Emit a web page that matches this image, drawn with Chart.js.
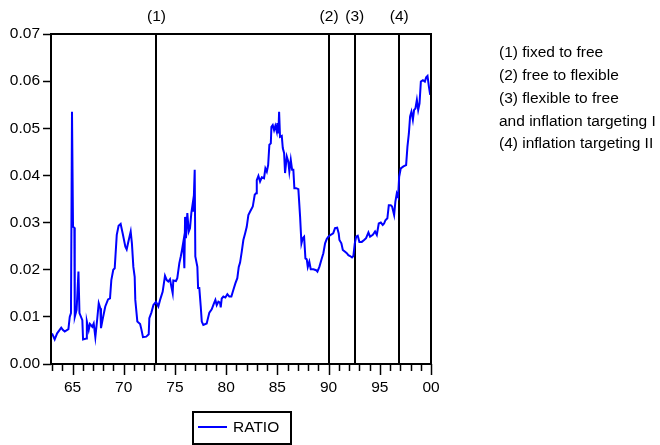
<!DOCTYPE html>
<html>
<head>
<meta charset="utf-8">
<script src="https://cdn.jsdelivr.net/npm/chart.js@4.4.1/dist/chart.umd.min.js"></script>
<style>
html,body{margin:0;padding:0;background:#fff;}
#wrap{width:660px;height:445px;position:relative;}
</style>
</head>
<body>
<div id="wrap"><canvas id="c" width="660" height="445"></canvas></div>
<script>
// ---- data ----
const years = [1963.00,1963.26,1963.50,1963.90,1964.07,1964.24,1964.60,1964.73,1964.85,1964.95,1965.05,1965.18,1965.22,1965.40,1965.58,1965.68,1965.96,1966.03,1966.35,1966.40,1966.58,1966.70,1966.93,1967.07,1967.23,1967.42,1967.56,1967.72,1967.78,1967.98,1968.20,1968.47,1968.66,1968.79,1968.98,1969.12,1969.32,1969.50,1969.70,1969.90,1970.16,1970.29,1970.42,1970.68,1970.80,1970.94,1971.07,1971.13,1971.33,1971.60,1971.72,1971.88,1972.20,1972.44,1972.50,1972.70,1972.90,1973.15,1973.38,1973.55,1973.80,1974.03,1974.20,1974.35,1974.52,1974.65,1974.78,1974.84,1975.10,1975.23,1975.43,1975.57,1975.69,1975.82,1975.92,1975.99,1976.08,1976.21,1976.35,1976.47,1976.60,1976.74,1976.80,1976.93,1976.99,1977.19,1977.26,1977.38,1977.52,1977.62,1977.77,1978.10,1978.36,1978.59,1978.82,1978.95,1979.08,1979.24,1979.40,1979.47,1979.57,1979.73,1979.92,1980.12,1980.31,1980.51,1980.70,1980.90,1981.09,1981.23,1981.36,1981.52,1981.68,1981.85,1982.01,1982.17,1982.33,1982.60,1982.79,1982.92,1982.99,1983.15,1983.31,1983.48,1983.70,1983.83,1983.97,1984.10,1984.22,1984.36,1984.42,1984.55,1984.68,1984.80,1984.94,1985.00,1985.10,1985.17,1985.26,1985.43,1985.53,1985.66,1985.75,1985.92,1986.07,1986.17,1986.31,1986.44,1986.56,1986.66,1986.83,1987.05,1987.22,1987.35,1987.48,1987.61,1987.74,1987.87,1987.97,1988.12,1988.26,1988.52,1988.78,1988.91,1989.10,1989.30,1989.49,1989.66,1989.82,1989.98,1990.21,1990.45,1990.63,1990.84,1990.99,1991.06,1991.25,1991.39,1991.61,1991.78,1991.93,1992.10,1992.29,1992.42,1992.56,1992.69,1992.85,1993.01,1993.24,1993.47,1993.66,1993.89,1994.05,1994.32,1994.54,1994.71,1994.90,1995.10,1995.29,1995.42,1995.55,1995.74,1995.88,1996.07,1996.20,1996.40,1996.52,1996.66,1996.79,1996.89,1997.05,1997.31,1997.57,1997.70,1997.84,1997.96,1998.09,1998.23,1998.35,1998.48,1998.62,1998.75,1998.88,1999.01,1999.21,1999.40,1999.53,1999.66,1999.80,1999.92];
const ratio = [0.0065,0.0052,0.0065,0.0077,0.0072,0.0069,0.0074,0.0100,0.0108,0.0535,0.0291,0.0289,0.0100,0.0115,0.0196,0.0108,0.0093,0.0052,0.0054,0.0090,0.0072,0.0085,0.0079,0.0086,0.0057,0.0097,0.0129,0.0118,0.0076,0.0099,0.0122,0.0137,0.0139,0.0178,0.0200,0.0203,0.0274,0.0293,0.0297,0.0277,0.0249,0.0243,0.0256,0.0281,0.0256,0.0206,0.0185,0.0136,0.0090,0.0085,0.0074,0.0057,0.0058,0.0063,0.0097,0.0109,0.0125,0.0132,0.0122,0.0136,0.0153,0.0187,0.0178,0.0175,0.0180,0.0164,0.0150,0.0177,0.0176,0.0182,0.0214,0.0228,0.0242,0.0259,0.0203,0.0312,0.0267,0.0320,0.0281,0.0288,0.0320,0.0341,0.0323,0.0412,0.0228,0.0206,0.0161,0.0161,0.0122,0.0090,0.0083,0.0086,0.0109,0.0116,0.0129,0.0136,0.0125,0.0132,0.0130,0.0120,0.0139,0.0143,0.0141,0.0148,0.0143,0.0143,0.0157,0.0171,0.0182,0.0206,0.0215,0.0238,0.0263,0.0277,0.0291,0.0316,0.0323,0.0334,0.0359,0.0362,0.0390,0.0399,0.0387,0.0396,0.0394,0.0415,0.0408,0.0422,0.0465,0.0468,0.0503,0.0507,0.0496,0.0505,0.0493,0.0511,0.0489,0.0535,0.0482,0.0484,0.0458,0.0447,0.0405,0.0440,0.0429,0.0408,0.0433,0.0412,0.0412,0.0373,0.0373,0.0371,0.0312,0.0256,0.0267,0.0270,0.0224,0.0222,0.0206,0.0217,0.0201,0.0201,0.0199,0.0196,0.0206,0.0221,0.0235,0.0256,0.0265,0.0270,0.0274,0.0277,0.0288,0.0289,0.0277,0.0263,0.0256,0.0242,0.0238,0.0235,0.0231,0.0229,0.0226,0.0229,0.0256,0.0270,0.0272,0.0259,0.0259,0.0263,0.0267,0.0279,0.0270,0.0274,0.0281,0.0274,0.0298,0.0300,0.0295,0.0298,0.0305,0.0309,0.0337,0.0337,0.0334,0.0316,0.0344,0.0362,0.0355,0.0397,0.0415,0.0419,0.0422,0.0461,0.0489,0.0525,0.0535,0.0518,0.0539,0.0542,0.0560,0.0539,0.0553,0.0599,0.0602,0.0599,0.0608,0.0611,0.0588,0.0571];
const seriesName = 'RATIO';
const regimeYears = [1973.2, 1990.05, 1992.56, 1996.9];
const regimeLabels = ['(1)', '(2)', '(3)', '(4)'];
const regimeNotes = ['(1) fixed to free', '(2) free to flexible', '(3) flexible to free', 'and inflation targeting I', '(4) inflation targeting II'];
const majorYears = [1965, 1970, 1975, 1980, 1985, 1990, 1995, 2000];
const xTickLabels = ['65', '70', '75', '80', '85', '90', '95', '00'];
const minorYears = [1963,1964,1965,1966,1967,1968,1969,1970,1971,1972,1973,1974,1975,1976,1977,1978,1979,1980,1981,1982,1983,1984,1985,1986,1987,1988,1989,1990,1991,1992,1993,1994,1995,1996,1997,1998,1999,2000];
const xMin = 1962.9, xMax = 2000.0;
const yMin = 0, yMax = 0.07, yStep = 0.01;

const FONT = '"Liberation Sans", Arial, sans-serif';
const FS = 15.5;

const points = years.map((x, i) => ({x: x, y: ratio[i]}));

const overlay = {
  id: 'overlay',
  beforeDatasetsDraw(chart) {
    const ctx = chart.ctx, a = chart.chartArea, xs = chart.scales.x;
    ctx.save();
    ctx.strokeStyle = '#000';
    ctx.lineWidth = 2;
    regimeYears.forEach(v => {
      const px = Math.round(xs.getPixelForValue(v));
      ctx.beginPath();
      ctx.moveTo(px, a.top);
      ctx.lineTo(px, a.bottom);
      ctx.stroke();
    });
    ctx.restore();
  },
  afterDraw(chart) {
    const ctx = chart.ctx, a = chart.chartArea, xs = chart.scales.x;
    ctx.save();
    // frame
    ctx.strokeStyle = '#000';
    ctx.lineWidth = 2;
    ctx.strokeRect(a.left, a.top, a.right - a.left, a.bottom - a.top);
    // x ticks
    ctx.lineWidth = 1.5;
    minorYears.forEach(v => {
      const px = Math.round(xs.getPixelForValue(v)) + 0.5;
      const len = majorYears.includes(v) ? 11 : 7;
      ctx.beginPath();
      ctx.moveTo(px, a.bottom);
      ctx.lineTo(px, a.bottom + len);
      ctx.stroke();
    });
    // regime labels at top
    ctx.fillStyle = '#000';
    ctx.font = FS + 'px ' + FONT;
    ctx.textAlign = 'center';
    ctx.textBaseline = 'middle';
    regimeYears.forEach((v, i) => {
      ctx.fillText(regimeLabels[i], xs.getPixelForValue(v), 17);
    });
    // notes on the right
    ctx.textAlign = 'left';
    regimeNotes.forEach((t, i) => {
      ctx.fillText(t, 499, 53 + i * 22.75);
    });
    // legend box
    ctx.lineWidth = 2;
    ctx.strokeRect(193, 412, 98, 32);
    const ds = chart.data.datasets[0];
    ctx.strokeStyle = ds.borderColor;
    ctx.lineWidth = 2;
    ctx.beginPath();
    ctx.moveTo(198, 427);
    ctx.lineTo(227, 427);
    ctx.stroke();
    ctx.fillStyle = '#000';
    ctx.fillText(ds.label, 233, 428);
    ctx.restore();
  }
};

new Chart(document.getElementById('c'), {
  type: 'line',
  data: {
    datasets: [{
      label: seriesName,
      data: points,
      borderColor: '#0000ff',
      borderWidth: 2,
      pointRadius: 0,
      tension: 0,
      fill: false
    }]
  },
  options: {
    responsive: false,
    animation: false,
    devicePixelRatio: 1,
    layout: {padding: {left: 0, top: 34, right: 229, bottom: 50}},
    plugins: {legend: {display: false}, tooltip: {enabled: false}},
    scales: {
      x: {
        type: 'linear',
        min: xMin,
        max: xMax,
        afterBuildTicks(scale) { scale.ticks = majorYears.map(v => ({value: v})); },
        afterFit(scale) { scale.height = 31; scale.paddingLeft = 0; scale.paddingRight = 0; },
        ticks: {
          autoSkip: false,
          maxRotation: 0,
          minRotation: 0,
          padding: 3,
          color: '#000',
          font: {family: FONT, size: FS},
          callback(v) { const i = majorYears.indexOf(v); return i >= 0 ? xTickLabels[i] : ''; }
        },
        grid: {display: true, drawOnChartArea: false, drawTicks: true, tickLength: 11, tickColor: 'rgba(0,0,0,0)'},
        border: {display: false}
      },
      y: {
        type: 'linear',
        min: yMin,
        max: yMax,
        afterFit(scale) { scale.width = 51; scale.paddingTop = 0; scale.paddingBottom = 0; },
        ticks: {
          stepSize: yStep,
          padding: 3,
          color: '#000',
          font: {family: FONT, size: FS},
          callback(v) { return Number(v).toFixed(2); }
        },
        grid: {display: true, drawOnChartArea: false, drawTicks: true, tickLength: 8, tickColor: '#000', tickWidth: 1.5},
        border: {display: false}
      }
    }
  },
  plugins: [overlay]
});
</script>
</body>
</html>
